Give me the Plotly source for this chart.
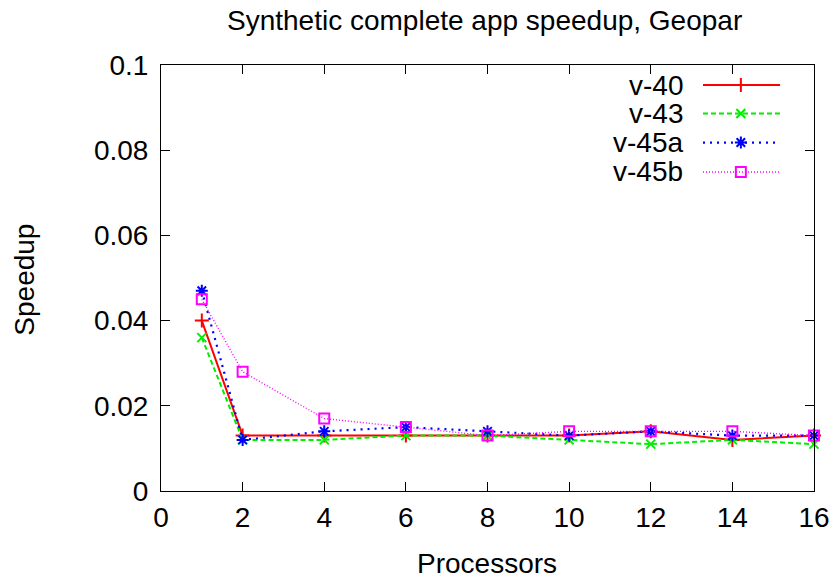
import plotly.graph_objects as go

# Speedup measurements per processor count
processors = [1, 2, 4, 6, 8, 10, 12, 14, 16]
v40 = [0.040, 0.013, 0.013, 0.013, 0.013, 0.013, 0.014, 0.012, 0.013]
v43 = [0.036, 0.012, 0.012, 0.013, 0.013, 0.012, 0.011, 0.012, 0.011]
v45a = [0.047, 0.012, 0.014, 0.015, 0.014, 0.013, 0.014, 0.013, 0.013]
v45b = [0.045, 0.028, 0.017, 0.015, 0.013, 0.014, 0.014, 0.014, 0.013]

series_names = ["v-40", "v-43", "v-45a", "v-45b"]
series_values = [v40, v43, v45a, v45b]
colors = ["#ff0000", "#00ee00", "#0000ff", "#ff00ff"]
dashes = ["solid", "5px,3px", "2px,5px", "1px,2px"]
widths = [2, 2, 2.2, 1.4]
symbols = ["cross-thin-open", "x-thin-open", "asterisk-open", "square-open"]
msizes = [10, 9, 10, 10]

x_ticks = [0, 2, 4, 6, 8, 10, 12, 14, 16]
y_ticks = [0, 0.02, 0.04, 0.06, 0.08, 0.1]
y_tick_text = ["0", "0.02", "0.04", "0.06", "0.08", "0.1"]

FONT = "Liberation Sans, Arial, Helvetica, sans-serif"
FS = 28

fig = go.Figure()

for name, vals, c, d, w, s, ms in zip(series_names, series_values, colors, dashes, widths, symbols, msizes):
    fig.add_trace(go.Scatter(
        x=processors, y=vals, name=name, mode="lines+markers",
        line=dict(color=c, width=w, dash=d),
        marker=dict(symbol=s, size=ms, color=c, line=dict(color=c, width=2)),
        cliponaxis=False, showlegend=False,
    ))

# Key in the upper right: right-aligned label, then line sample with marker
key_y = [0.953, 0.886, 0.818, 0.749]
x_text, x0, x1, xm = 0.8025, 0.830, 0.948, 0.888
for name, c, d, w, s, ms, ky in zip(series_names, colors, dashes, widths, symbols, msizes, key_y):
    fig.add_annotation(x=x_text, y=ky, xref="paper", yref="paper", text=name,
                       showarrow=False, xanchor="right", yanchor="middle",
                       font=dict(family=FONT, size=FS, color="black"))
    fig.add_shape(type="line", xref="paper", yref="paper", x0=x0, x1=x1, y0=ky, y1=ky,
                  line=dict(color=c, width=w, dash=d))
    fig.add_trace(go.Scatter(
        x=[xm], y=[ky], xaxis="x2", yaxis="y2", mode="markers",
        marker=dict(symbol=s, size=ms, color=c, line=dict(color=c, width=2)),
        showlegend=False, hoverinfo="skip", cliponaxis=False,
    ))

# Title and axis titles
fig.add_annotation(x=0.4954, y=1.1035, xref="paper", yref="paper", showarrow=False,
                   text="Synthetic complete app speedup, Geopar", xanchor="center", yanchor="middle",
                   font=dict(family=FONT, size=FS, color="black"))
fig.add_annotation(x=0.4985, y=-0.1694, xref="paper", yref="paper", showarrow=False,
                   text="Processors", xanchor="center", yanchor="middle",
                   font=dict(family=FONT, size=FS, color="black"))
fig.add_annotation(x=-0.2083, y=0.496, xref="paper", yref="paper", showarrow=False,
                   text="Speedup", textangle=-90, xanchor="center", yanchor="middle",
                   font=dict(family=FONT, size=FS, color="black"))

axis_common = dict(
    showline=True, linecolor="black", linewidth=1, mirror="ticks",
    ticks="inside", ticklen=9, tickwidth=1, tickcolor="black",
    showgrid=False, zeroline=False, automargin=False,
    tickfont=dict(family=FONT, size=FS, color="black"),
)

fig.update_layout(
    width=838, height=581,
    margin=dict(l=161, r=24, t=65, b=90, autoexpand=False),
    paper_bgcolor="white", plot_bgcolor="white",
    xaxis=dict(range=[0, 16], tickvals=x_ticks, ticklabelstandoff=1, **axis_common),
    yaxis=dict(range=[0, 0.1], tickvals=y_ticks, ticktext=y_tick_text, ticklabelstandoff=6,
               **axis_common),
    xaxis2=dict(overlaying="x", range=[0, 1], visible=False),
    yaxis2=dict(overlaying="y", range=[0, 1], visible=False),
)

fig.write_html("out.html")
